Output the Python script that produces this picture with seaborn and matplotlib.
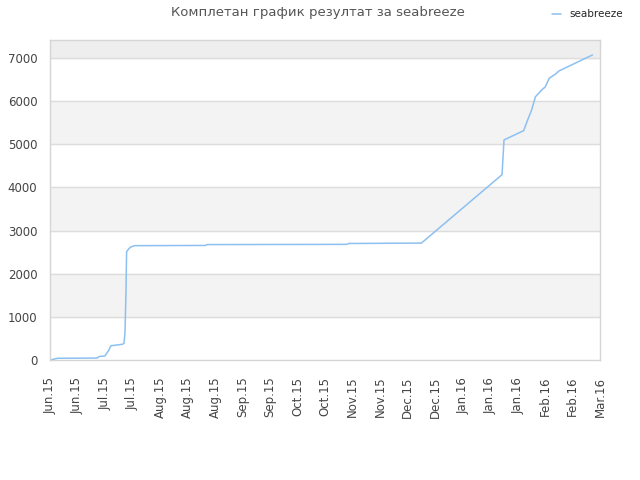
import pandas as pd
import matplotlib.pyplot as plt
import matplotlib.dates as mdates
import seaborn as sns

# score history
dates = ['2015-06-07 00:00', '2015-06-10 00:00', '2015-06-30 00:00', '2015-07-01 00:00',
         '2015-07-04 00:00', '2015-07-06 00:00', '2015-07-07 00:00', '2015-07-13 00:00',
         '2015-07-13 17:00', '2015-07-14 05:00', '2015-07-14 17:00', '2015-07-15 00:00',
         '2015-07-16 00:00', '2015-07-17 00:00', '2015-07-19 00:00', '2015-08-24 00:00',
         '2015-08-25 00:00', '2015-11-04 00:00', '2015-11-05 00:00', '2015-12-12 00:00',
         '2016-01-22 00:00', '2016-01-23 00:00', '2016-02-02 00:00', '2016-02-04 00:00',
         '2016-02-06 00:00', '2016-02-08 00:00', '2016-02-11 00:00', '2016-02-13 00:00',
         '2016-02-15 00:00', '2016-02-18 00:00', '2016-02-20 00:00', '2016-03-08 00:00']
scores = [10, 40, 45, 80, 95, 230, 330, 365, 390, 660, 1620, 2510, 2570,
          2615, 2650, 2655, 2675, 2680, 2700, 2710, 4295, 5100, 5315, 5560,
          5790, 6100, 6250, 6330, 6530, 6620, 6700, 7070]

tick_start = '2015-06-06'
tick_count = 21
tick_step_days = 14
yticks = [0, 1000, 2000, 3000, 4000, 5000, 6000, 7000]

data = pd.DataFrame({'date': pd.to_datetime(dates, format='%Y-%m-%d %H:%M'),
                     'score': scores})

sns.set_style('white')
plt.rcParams['font.family'] = ['DejaVu Sans']

fig = plt.figure(figsize=(6.4, 4.8), dpi=100)
ax = fig.add_axes([0.078, 0.25, 0.86, 0.667])

# alternating bands
band_top = 7420
for i, lo in enumerate(yticks):
    hi = yticks[i + 1] if i + 1 < len(yticks) else band_top
    if i % 2 == 1:
        ax.axhspan(lo, hi, color='#f3f3f3', zorder=0)
    if i == len(yticks) - 1:
        ax.axhspan(lo, hi, color='#eeeeee', zorder=0)
for y in yticks[1:]:
    ax.axhline(y, color='#dddddd', lw=1, zorder=1)

sns.lineplot(data=data, x='date', y='score', ax=ax, color='#8cc0f0',
             lw=1.1, label='seabreeze', zorder=3)

xticks = pd.date_range(tick_start, periods=tick_count, freq=f'{tick_step_days}D')
ax.set_xticks(xticks)
ax.xaxis.set_major_formatter(mdates.DateFormatter('%b.%y'))
ax.set_xlim(xticks[0], xticks[-1])
ax.set_ylim(0, band_top)
ax.set_yticks(yticks)
ax.tick_params(axis='x', labelrotation=90, labelsize=8.5, colors='#444444', length=0, pad=12)
ax.tick_params(axis='y', labelsize=8.5, colors='#444444', length=0, pad=9)
ax.set_xlabel('')
ax.set_ylabel('')
for s in ax.spines.values():
    s.set_color('#d5d5d5')
    s.set_linewidth(1)

fig.suptitle('Комплетан график резултат за seabreeze', x=0.497, y=0.987,
             fontsize=9.5, color='#555555')
leg = ax.legend(loc='upper right', bbox_to_anchor=(1.058, 1.125), frameon=False,
                fontsize=7.5, handlelength=0.9, handletextpad=0.8)

plt.savefig('out.png')
